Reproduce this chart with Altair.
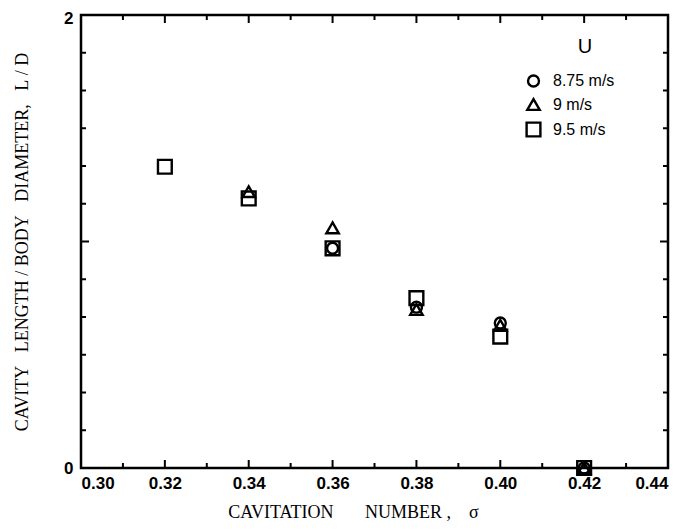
import altair as alt
import pandas as pd

# ---- data ----
sigma = [0.32, 0.34, 0.36, 0.38, 0.40, 0.42]
ld_875 = [None, None, 0.97, 0.71, 0.64, 0.0]
ld_9 = [None, 1.22, 1.06, 0.70, 0.63, 0.0]
ld_95 = [1.33, 1.19, 0.97, 0.75, 0.58, 0.0]
series = ["8.75 m/s", "9 m/s", "9.5 m/s"]
shapes = ["circle", "triangle-up", "square"]
marker_sizes = [120, 190, 140]
legend_title = "U"

x_labels = [0.30, 0.32, 0.34, 0.36, 0.38, 0.40, 0.42, 0.44]
x_major_ticks = [0.32, 0.34, 0.36, 0.38, 0.40, 0.42]
x_minor_ticks = [0.31, 0.33, 0.35, 0.37, 0.39, 0.41, 0.43]
y_labels = [0, 1, 2]
y_major_ticks = [1]
y_minor_ticks = [0.1667, 0.3333, 0.5, 0.6667, 0.8333,
                 1.1667, 1.3333, 1.5, 1.6667, 1.8333]

W, H = 587, 453
MAJ, MIN = 8, 5

rows = []
for name, vals in zip(series, [ld_875, ld_9, ld_95]):
    for s, v in zip(sigma, vals):
        if v is not None:
            rows.append({"sigma": s, "ld": v, "U": name})
df = pd.DataFrame(rows)

xscale = alt.Scale(domain=[0.30, 0.44], nice=False, zero=False)
yscale = alt.Scale(domain=[0, 2], nice=False)

serif = "Liberation Serif"
sans = "Liberation Sans"
NB = "\u00a0"

x_title = f"CAVITATION{NB*7}NUMBER{NB},{NB*4}σ"
y_title = f"CAVITY{NB*3}LENGTH{NB}/{NB}BODY{NB*3}DIAMETER,{NB*3}L{NB}/{NB}D"

x_axis = alt.Axis(values=x_labels, format=".2f", domain=False, ticks=False,
                  grid=False, labelFont=sans, labelFontSize=17,
                  labelFontWeight="bold", labelColor="black", labelPadding=7,
                  titleFont=serif, titleFontSize=18, titleFontWeight="normal",
                  titleColor="black", titlePadding=12, titleX=272)
y_axis = alt.Axis(values=y_labels, format="d", domain=False, ticks=False,
                  grid=False, labelFont=sans, labelFontSize=17,
                  labelFontWeight="bold", labelColor="black", labelPadding=8,
                  labelOffset={"condition": {"test": "datum.value == 2", "value": 3},
                               "value": 0},
                  titleFont=serif, titleFontSize=18, titleFontWeight="normal",
                  titleColor="black", titlePadding=32)

legend = alt.Legend(title=None, orient="none", legendX=444, legendY=58,
                    labelFont=sans, labelFontSize=16,
                    labelColor="black", labelOffset=11,
                    symbolStrokeWidth=2.4,
                    symbolStrokeColor="black",
                    symbolFillColor="transparent",
                    rowPadding=1.5)

points = alt.Chart(df).mark_point(
    filled=False, color="black", strokeWidth=2.4, opacity=1
).encode(
    x=alt.X("sigma:Q", scale=xscale, title=x_title, axis=x_axis),
    y=alt.Y("ld:Q", scale=yscale, title=y_title, axis=y_axis),
    shape=alt.Shape("U:N", scale=alt.Scale(domain=series, range=shapes), legend=legend),
    size=alt.Size("U:N", scale=alt.Scale(domain=series, range=marker_sizes), legend=legend),
)

title_u = alt.Chart(pd.DataFrame({"t": [legend_title]})).mark_text(
    font=sans, fontSize=20, color="black", align="center", baseline="middle"
).encode(text="t:N", x=alt.value(504), y=alt.value(32))

def xrules(vals, length):
    d = pd.DataFrame({"sigma": vals})
    bottom = alt.Chart(d).mark_rule(color="black", strokeWidth=2).encode(
        x=alt.X("sigma:Q", scale=xscale, title=x_title, axis=x_axis),
        y=alt.value(H), y2=alt.value(H - length))
    top = alt.Chart(d).mark_rule(color="black", strokeWidth=2).encode(
        x=alt.X("sigma:Q", scale=xscale, title=x_title, axis=x_axis),
        y=alt.value(0), y2=alt.value(length))
    return [bottom, top]

def yrules(vals, length):
    d = pd.DataFrame({"ld": vals})
    left = alt.Chart(d).mark_rule(color="black", strokeWidth=2).encode(
        y=alt.Y("ld:Q", scale=yscale, title=y_title, axis=y_axis),
        x=alt.value(0), x2=alt.value(length))
    right = alt.Chart(d).mark_rule(color="black", strokeWidth=2).encode(
        y=alt.Y("ld:Q", scale=yscale, title=y_title, axis=y_axis),
        x=alt.value(W), x2=alt.value(W - length))
    return [left, right]

layers = ([points] + xrules(x_major_ticks, MAJ) + xrules(x_minor_ticks, MIN)
          + yrules(y_major_ticks, MAJ) + yrules(y_minor_ticks, MIN) + [title_u])

chart = alt.layer(*layers).properties(
    width=W, height=H,
    autosize=alt.AutoSizeParams(type="none"),
    padding={"left": 73, "top": 7, "right": 12, "bottom": 54},
    background="white",
).configure_view(stroke="black", strokeWidth=2.5)

chart.save("out.html", embed_options={"renderer": "svg", "actions": False})
